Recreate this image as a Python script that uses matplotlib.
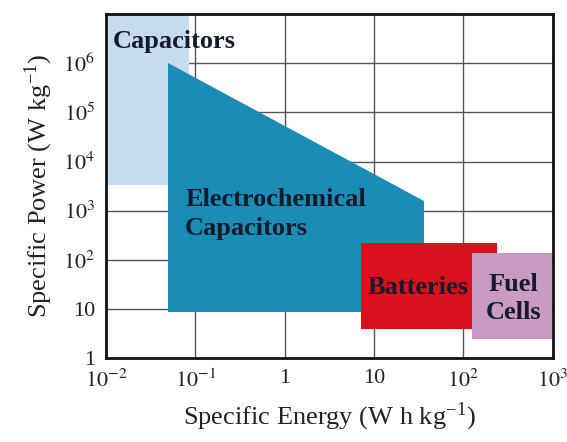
import matplotlib.pyplot as plt
from matplotlib.patches import Rectangle, Polygon

# figure style: Times-like serif text everywhere
plt.rcParams['font.family'] = ['Liberation Serif', 'DejaVu Serif']
plt.rcParams['mathtext.fontset'] = 'stix'

# rectangular regions (specific energy range, specific power range)
capacitors_energy = [0.01, 0.085]
capacitors_power = [3400, 1e7]
batteries_energy = [7.2, 235]
batteries_power = [3.9, 215]
fuelcells_energy = [126, 970]
fuelcells_power = [2.4, 140]

# electrochemical capacitors outline
ec_energy = [0.049, 0.049, 36, 36]
ec_power = [1e6, 8.5, 8.5, 1600]

x_ticks = [1e-2, 1e-1, 1, 10, 1e2, 1e3]
x_ticklabels = [r'$10^{-2}$', r'$10^{-1}$', '1', '10', r'$10^{2}$', r'$10^{3}$']
y_ticks = [1, 10, 1e2, 1e3, 1e4, 1e5, 1e6]
y_ticklabels = ['1', '10', r'$10^{2}$', r'$10^{3}$', r'$10^{4}$', r'$10^{5}$', r'$10^{6}$']

fig = plt.figure(figsize=(5.67, 4.42), dpi=100)
ax = fig.add_axes([0.187, 0.190, 0.788, 0.778])
ax.set_xscale('log')
ax.set_yscale('log')
ax.set_xlim(1e-2, 1e3)
ax.set_ylim(1, 1e7)

ax.add_patch(Rectangle((capacitors_energy[0], capacitors_power[0]),
                       capacitors_energy[1] - capacitors_energy[0],
                       capacitors_power[1] - capacitors_power[0],
                       facecolor='#c6dcee', edgecolor='none', zorder=2))
ax.add_patch(Polygon(list(zip(ec_energy, ec_power)), closed=True,
                     facecolor='#1a8db6', edgecolor='none', zorder=3))
ax.add_patch(Rectangle((batteries_energy[0], batteries_power[0]),
                       batteries_energy[1] - batteries_energy[0],
                       batteries_power[1] - batteries_power[0],
                       facecolor='#d9111c', edgecolor='none', zorder=4))
ax.add_patch(Rectangle((fuelcells_energy[0], fuelcells_power[0]),
                       fuelcells_energy[1] - fuelcells_energy[0],
                       fuelcells_power[1] - fuelcells_power[0],
                       facecolor='#c99bc3', edgecolor='none', zorder=5))

txt_color = '#151a2c'
ax.text(0.012, 2.8e6, 'Capacitors', fontsize=19, fontweight='bold',
        color=txt_color, ha='left', va='center', zorder=6)
ax.text(0.077, 850, 'Electrochemical\nCapacitors', fontsize=19, fontweight='bold',
        color=txt_color, ha='left', va='center', linespacing=1.35, zorder=6)
ax.text(31, 27, 'Batteries', fontsize=19, fontweight='bold',
        color=txt_color, ha='center', va='center', zorder=6)
ax.text(360, 16.5, 'Fuel\nCells', fontsize=19, fontweight='bold',
        color=txt_color, ha='center', va='center', linespacing=1.3, zorder=6)

ax.set_xticks(x_ticks)
ax.set_xticklabels(x_ticklabels)
ax.set_yticks(y_ticks)
ax.set_yticklabels(y_ticklabels)
ax.minorticks_off()
ax.tick_params(length=0, labelsize=16, pad=8, colors='#222222')
ax.grid(True, color='#555555', linewidth=1.0, zorder=1)
ax.set_axisbelow(True)
for s in ax.spines.values():
    s.set_linewidth(2)
    s.set_color('#111111')
    s.set_zorder(7)

ax.set_xlabel(r'Specific Energy (W h kg$^{\mathregular{-1}}$)', fontsize=19, color='#222222', labelpad=6)
ax.set_ylabel(r'Specific Power (W kg$^{\mathregular{-1}}$)', fontsize=19, color='#222222', labelpad=6)

fig.savefig('out.png', dpi=100)
